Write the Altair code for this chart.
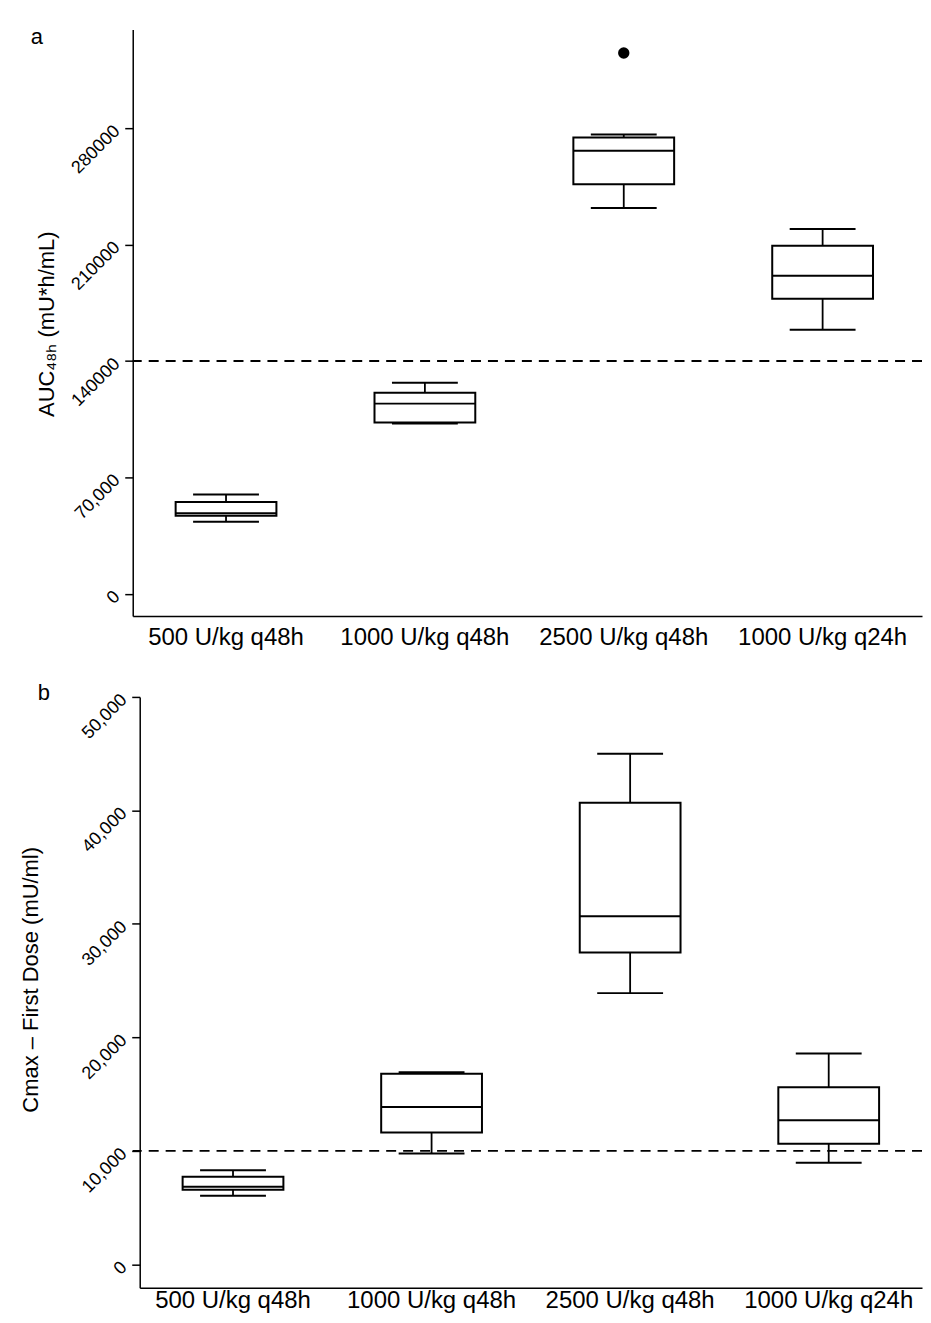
import altair as alt
import pandas as pd

# ---------------- data ----------------
groups = ["500 U/kg q48h", "1000 U/kg q48h", "2500 U/kg q48h", "1000 U/kg q24h"]

# Panel a: AUC48h (mU*h/mL)
auc_whisk_lo = [43200, 102400, 232000, 158700]
auc_q1 = [46900, 102900, 246300, 177400]
auc_median = [48300, 114300, 266400, 191200]
auc_q3 = [55200, 120900, 274400, 209200]
auc_whisk_hi = [59700, 126800, 276200, 219400]
auc_outlier_group = ["2500 U/kg q48h"]
auc_outlier_value = [325200]
auc_reference = [140000]
auc_ticks = [0, 70000, 140000, 210000, 280000]

# Panel b: Cmax - First Dose (mU/ml)
cmax_whisk_lo = [6040, 9760, 23900, 8950]
cmax_q1 = [6570, 11610, 27480, 10620]
cmax_median = [6830, 13870, 30670, 12700]
cmax_q3 = [7710, 16800, 40670, 15600]
cmax_whisk_hi = [8300, 16920, 45000, 18590]
cmax_reference = [10000]
cmax_ticks = [0, 10000, 20000, 30000, 40000, 50000]

FONT = "Liberation Sans"


def make_panel(letter, wlo, q1, med, q3, whi, ref, ticks, domain, width, height,
               x_range, pad_inner, pad_outer, y_offset, x_label_pad,
               y_title, title_x, title_y, label_expr,
               letter_x, letter_y, bound_bottom,
               out_groups=None, out_values=None):
    df = pd.DataFrame({"group": groups, "wlo": wlo, "q1": q1, "med": med,
                       "q3": q3, "whi": whi})
    xscale_kw = dict(domain=groups, paddingInner=pad_inner,
                     paddingOuter=pad_outer, align=0)
    if x_range:
        xscale_kw["range"] = x_range
    xenc = alt.X(
        "group:N", sort=groups, scale=alt.Scale(**xscale_kw),
        axis=alt.Axis(title=None, labelAngle=0, ticks=False, tickSize=0,
                      labelPadding=x_label_pad, labelFontSize=24,
                      labelColor="black", domainColor="black", domainWidth=1.5,
                      grid=False, labelFont=FONT),
    )
    yaxis = alt.Axis(values=ticks, labelExpr=label_expr, labelAngle=315,
                     labelAlign="right", labelBaseline="middle",
                     labelFontSize=18, labelPadding=8, labelColor="black",
                     tickSize=8, tickWidth=1.5, tickColor="black",
                     domainColor="black", domainWidth=1.5, grid=False,
                     offset=y_offset,
                     title=y_title, titleFontSize=22, titleFontWeight="normal",
                     titleColor="black", titleAngle=270, titleX=title_x,
                     titleY=title_y, titleBaseline="middle", labelFont=FONT,
                     titleFont=FONT)
    yscale = alt.Scale(domain=domain, nice=False, zero=False)

    def Y(field):
        return alt.Y(f"{field}:Q", scale=yscale, axis=yaxis)

    base = alt.Chart(df)
    whisk = base.mark_rule(color="black", strokeWidth=1.8, opacity=1).encode(
        x=xenc, y=Y("wlo"), y2="whi")
    box = base.mark_bar(fill="white", stroke="black", strokeWidth=2,
                        size=101, opacity=1).encode(x=xenc, y=Y("q1"), y2="q3")
    median = base.mark_tick(color="black", thickness=2, size=101,
                            opacity=1).encode(x=xenc, y=Y("med"))
    cap_lo = base.mark_tick(color="black", thickness=2, size=66,
                            opacity=1).encode(x=xenc, y=Y("wlo"))
    cap_hi = base.mark_tick(color="black", thickness=2, size=66,
                            opacity=1).encode(x=xenc, y=Y("whi"))
    ref_line = alt.Chart(pd.DataFrame({"ref": ref})).mark_rule(
        color="black", strokeWidth=2, strokeDash=[10, 7]).encode(y=Y("ref"))
    letter_mark = alt.Chart(pd.DataFrame({"t": [letter]})).mark_text(
        font=FONT, fontSize=22, align="center", baseline="alphabetic",
        color="black").encode(text="t:N", x=alt.value(letter_x),
                              y=alt.value(letter_y))
    # invisible frame rule that fixes the panel's outer extent
    bound = alt.Chart(pd.DataFrame({"k": [0]})).mark_rule(
        color="white", strokeWidth=0.5).encode(
        x=alt.value(-124), y=alt.value(-19.5), y2=alt.value(bound_bottom))

    layers = [bound, ref_line, whisk, box, median, cap_lo, cap_hi]
    if out_groups:
        odf = pd.DataFrame({"group": out_groups, "val": out_values})
        layers.append(alt.Chart(odf).mark_circle(
            color="black", size=130, opacity=1).encode(x=xenc, y=Y("val")))
    layers.append(letter_mark)
    return alt.layer(*layers).properties(width=width, height=height)


panel_a = make_panel(
    "a", auc_whisk_lo, auc_q1, auc_median, auc_q3, auc_whisk_hi,
    auc_reference, auc_ticks, [-13500, 339400], 791, 588,
    None, 0.0617, 0.0153, 0, 9,
    "AUC₄₈ₕ (mU*h/mL)", -86, 295,
    "datum.value == 70000 ? '70,000' : '' + datum.value",
    -96, 15, 633,
    out_groups=auc_outlier_group, out_values=auc_outlier_value)

panel_b = make_panel(
    "b", cmax_whisk_lo, cmax_q1, cmax_median, cmax_q3, cmax_whisk_hi,
    cmax_reference, cmax_ticks, [-2050, 50000], 791, 592,
    [7, 791], 0.0603, 0.0, -7, 1,
    "Cmax – First Dose (mU/ml)", -109, 283,
    "format(datum.value, ',.0f')",
    -89, 3, 10)

chart = alt.vconcat(panel_a, panel_b, spacing=15).properties(
    padding={"left": 0, "top": 0, "right": 0, "bottom": 0},
    background="white",
).configure(font=FONT).configure_view(stroke=None)

chart.save("out.html", embed_options={"renderer": "svg", "actions": False})
